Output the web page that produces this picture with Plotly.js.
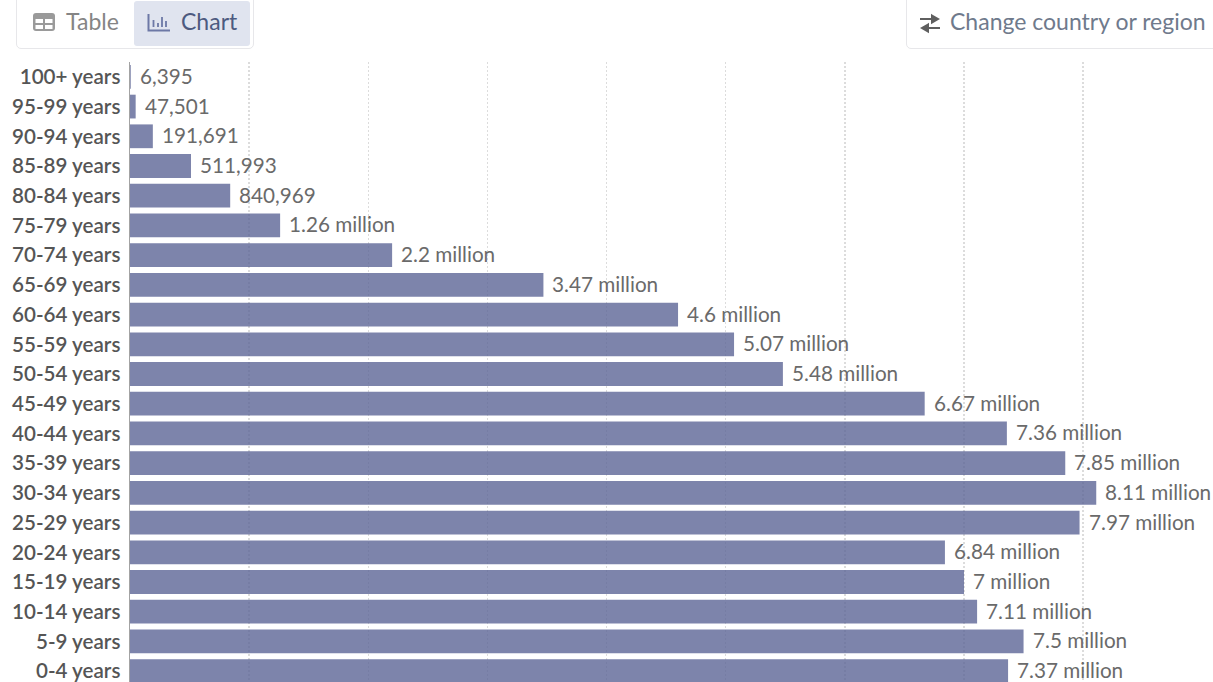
<!DOCTYPE html>
<html><head><meta charset="utf-8">
<script src="https://cdn.plot.ly/plotly-3.0.1.min.js"></script>
<style>
html,body{margin:0;padding:0;width:1213px;height:682px;overflow:hidden;background:#fff;font-family:Lato,sans-serif}
#chart{position:absolute;left:0;top:0;width:1213px;height:700px}
.box{position:absolute;box-sizing:border-box;background:#fff;border:1px solid #e7e7ea;border-radius:5px}
.lbl{position:absolute;font-size:23px;line-height:24px;white-space:nowrap}
svg.i{position:absolute}
</style></head><body>
<div id="chart"></div>
<div class="box" style="left:16px;top:-6px;width:238px;height:55px"></div>
<div style="position:absolute;left:134px;top:1px;width:116px;height:45px;background:#e0e4ef;border-radius:3px"></div>
<svg class="i" style="left:32px;top:12px" width="24" height="20" viewBox="0 0 24 20"><rect x="1" y="1" width="22" height="18" rx="3" fill="#9a9a9a"/><rect x="3.5" y="7" width="7.5" height="4" fill="#fff"/><rect x="13" y="7" width="7.5" height="4" fill="#fff"/><rect x="3.5" y="13" width="7.5" height="4" fill="#fff"/><rect x="13" y="13" width="7.5" height="4" fill="#fff"/></svg>
<div class="lbl" style="left:66px;top:9px;color:#858585">Table</div>
<svg class="i" style="left:147px;top:12px" width="24" height="20" viewBox="0 0 24 20"><path d="M1.5 2V18.5H23" fill="none" stroke="#6d78a6" stroke-width="2"/><path d="M6.5 8V15M11 11V15M15 5V15M19 9V15" stroke="#6d78a6" stroke-width="1.8"/></svg>
<div class="lbl" style="left:181px;top:9px;color:#4d5a80">Chart</div>
<div class="box" style="left:906px;top:-6px;width:320px;height:55px"></div>
<svg class="i" style="left:918px;top:13px" width="24" height="21" viewBox="0 0 24 21"><path d="M2 6H17M14 2.5L20 6L14 9.5Z" fill="#5f5f5f" stroke="#5f5f5f" stroke-width="2"/><path d="M22 15H7M10 11.5L4 15L10 18.5Z" fill="#5f5f5f" stroke="#5f5f5f" stroke-width="2"/></svg>
<div class="lbl" style="left:950px;top:9px;color:#6f7a8c">Change country or region</div>
<script>
const ageGroups = ["100+ years","95-99 years","90-94 years","85-89 years","80-84 years","75-79 years","70-74 years","65-69 years","60-64 years","55-59 years","50-54 years","45-49 years","40-44 years","35-39 years","30-34 years","25-29 years","20-24 years","15-19 years","10-14 years","5-9 years","0-4 years"];
const population = [6395,47501,191691,511993,840969,1260000,2200000,3470000,4600000,5070000,5480000,6670000,7360000,7850000,8110000,7970000,6840000,7000000,7110000,7500000,7370000];
const valueLabels = ["6,395","47,501","191,691","511,993","840,969","1.26 million","2.2 million","3.47 million","4.6 million","5.07 million","5.48 million","6.67 million","7.36 million","7.85 million","8.11 million","7.97 million","6.84 million","7 million","7.11 million","7.5 million","7.37 million"];
const gridTicks = [1e6,2e6,3e6,4e6,5e6,6e6,7e6,8e6];

Plotly.newPlot('chart',[{
  type:'bar',orientation:'h',x:population,y:ageGroups,
  marker:{color:'#5c6596',opacity:0.8,line:{width:0}},
  width:0.8,hoverinfo:'skip'
}],{
  width:1213,height:700,
  margin:{l:129.5,r:0,t:61.5,b:13.5,pad:0},
  paper_bgcolor:'rgba(0,0,0,0)',plot_bgcolor:'rgba(0,0,0,0)',
  showlegend:false,
  xaxis:{range:[0,9090000],tickvals:gridTicks,showticklabels:false,ticks:'',showgrid:true,gridcolor:'#dcdcdc',griddash:'2px,2px',gridwidth:1.4,zeroline:false,showline:false,fixedrange:true},
  yaxis:{type:'category',categoryorder:'array',categoryarray:ageGroups.slice().reverse(),range:[-0.5,20.5],showgrid:false,zeroline:false,showline:true,linecolor:'#a3a3a3',linewidth:1.5,ticks:'outside',ticklen:4,tickcolor:'rgba(0,0,0,0)',tickfont:{family:'Lato, sans-serif',size:20.6,color:'#555555',weight:600},fixedrange:true},
  annotations:ageGroups.map((g,i)=>({x:population[i],y:g,xref:'x',yref:'y',text:valueLabels[i],showarrow:false,xanchor:'left',yanchor:'middle',xshift:7,yshift:1,font:{family:'Lato, sans-serif',size:20.7,color:'#6a6a6a'}}))
},{displayModeBar:false,staticPlot:true});
</script>
</body></html>
